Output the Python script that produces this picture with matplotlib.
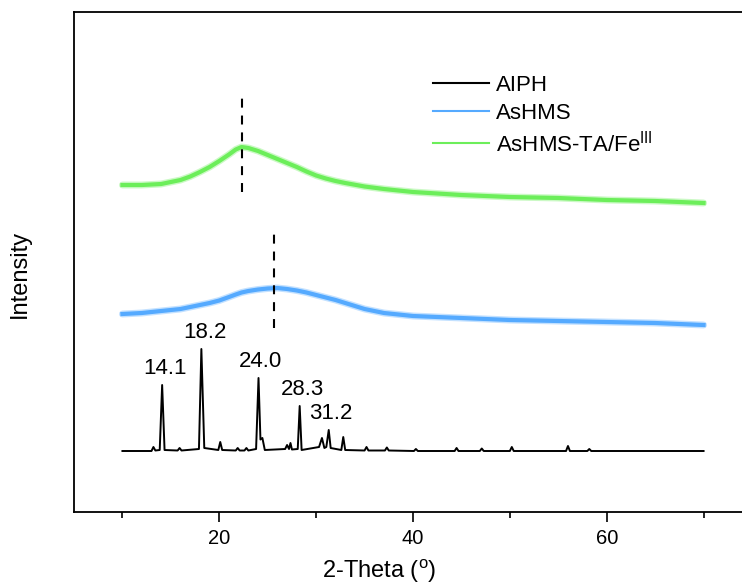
import numpy as np
import matplotlib.pyplot as plt
from matplotlib.ticker import MultipleLocator

plt.rcParams['font.family'] = ['Liberation Sans', 'DejaVu Sans']
plt.rcParams['mathtext.fontset'] = 'custom'
plt.rcParams['mathtext.rm'] = 'Liberation Sans'
plt.rcParams['mathtext.it'] = 'Liberation Sans:italic'

# AIPH: crystalline pattern, baseline + sharp reflections (2-theta in degrees)
aiph_two_theta = [10.0, 13.0, 13.2, 13.4, 13.85, 14.1, 14.35, 15.7, 15.9, 16.1,
                  17.9, 18.15, 18.45, 19.9, 20.1, 20.3, 21.7, 21.9, 22.1, 22.6,
                  22.8, 23.0, 23.8, 24.05, 24.25, 24.45, 24.7, 26.8, 27.0, 27.2,
                  27.35, 27.5, 28.1, 28.3, 28.5, 30.3, 30.6, 30.85, 31.05, 31.3,
                  31.5, 32.6, 32.8, 33.0, 35.0, 35.2, 35.4, 37.1, 37.3, 37.5,
                  40.1, 40.3, 40.5, 44.3, 44.5, 44.7, 46.9, 47.1, 47.3, 50.0,
                  50.2, 50.4, 55.8, 56.0, 56.2, 58.0, 58.2, 58.4, 70.0]
aiph_intensity = [12.2, 12.2, 13.0, 12.3, 12.4, 25.4, 12.4, 12.3, 12.8, 12.3,
                  12.6, 32.6, 12.8, 12.4, 14.0, 12.4, 12.3, 12.8, 12.3, 12.3,
                  12.8, 12.3, 12.6, 26.8, 14.5, 14.8, 12.4, 12.6, 13.4, 12.6,
                  13.8, 12.5, 12.6, 21.2, 12.4, 13.0, 14.8, 12.8, 13.0, 16.4,
                  12.8, 12.4, 15.0, 12.4, 12.3, 13.0, 12.3, 12.3, 12.9, 12.3,
                  12.2, 12.6, 12.2, 12.2, 12.8, 12.2, 12.2, 12.7, 12.2, 12.2,
                  13.0, 12.2, 12.2, 13.2, 12.2, 12.2, 12.6, 12.2, 12.2]

# amorphous humps of the two silica samples
hump_two_theta = [10, 12, 14, 16, 17, 18, 19, 20, 21, 21.7, 22.3, 23, 24, 25, 26,
                  27, 28, 29, 30, 31, 32, 33, 35, 37, 40, 45, 50, 55, 60, 65, 70]
ashms_intensity = [39.6, 39.8, 40.2, 40.6, 41.0, 41.4, 41.8, 42.3, 43.0, 43.5,
                   43.9, 44.2, 44.5, 44.7, 44.8, 44.6, 44.3, 43.9, 43.4, 42.9,
                   42.4, 41.8, 40.6, 39.8, 39.2, 38.8, 38.4, 38.2, 38.0, 37.8,
                   37.4]
ashms_ta_intensity = [65.4, 65.4, 65.6, 66.4, 67.1, 68.0, 69.0, 70.2, 71.5, 72.5,
                      73.0, 72.8, 72.2, 71.4, 70.6, 69.8, 69.0, 68.1, 67.3, 66.7,
                      66.2, 65.8, 65.1, 64.6, 64.0, 63.4, 63.0, 62.8, 62.4, 62.2,
                      61.8]

# labelled reflections of AIPH
peak_pos = [14.1, 18.2, 24.0, 28.3, 31.2]
peak_top = [25.4, 32.6, 26.8, 21.2, 16.4]
peak_text = ['14.1', '18.2', '24.0', '28.3', '31.2']

# hump maxima marked with dashed guides
guide_pos = [22.3, 25.6]
guide_lo = [64.0, 36.8]
guide_hi = [83.4, 56.0]

fig = plt.figure(figsize=(7.42, 5.87), dpi=100)
ax = fig.add_axes([74 / 742, 75 / 587, 678 / 742, 500 / 587])

ax.plot(aiph_two_theta, aiph_intensity, color='black', lw=1.4, label='AIPH')

# noisy humps: a soft halo under the main trace
for y, c, name in [(ashms_intensity, '#55AAFF', 'AsHMS'),
                   (ashms_ta_intensity, '#6CEE5A', 'AsHMS-TA/Fe$^{\\mathrm{III}}$')]:
    ax.plot(hump_two_theta, y, color=c, lw=5.0, alpha=0.35,
            solid_joinstyle='round', solid_capstyle='round')
    ax.plot(hump_two_theta, y, color=c, lw=3.0,
            solid_joinstyle='round', label=name)

for x, lo, hi in zip(guide_pos, guide_lo, guide_hi):
    ax.plot([x, x], [lo, hi], color='black', lw=1.5, ls=(0, (4.3, 3.8)))

for x, y, t in zip(peak_pos, peak_top, peak_text):
    ax.annotate(t, (x, y), xytext=(2, 4), textcoords='offset points',
                ha='center', va='bottom', fontsize=16)

ax.set_xlim(5, 75)
ax.set_ylim(0, 100)
ax.xaxis.set_major_locator(MultipleLocator(20))
ax.xaxis.set_minor_locator(MultipleLocator(10))
ax.tick_params(axis='x', which='major', length=7.2, width=1.2, labelsize=14.5, pad=5)
ax.tick_params(axis='x', which='minor', length=4.3, width=1.2)
ax.set_yticks([])
for s in ax.spines.values():
    s.set_linewidth(1.3)

ax.set_xlabel('2-Theta ($^{\\mathrm{o}}$)', fontsize=17)
ax.xaxis.set_label_coords(0.45, -0.118)
ax.xaxis.label.set_va('center')
ax.set_ylabel('Intensity', fontsize=17)
ax.yaxis.set_label_coords(-54 / 678, 0.476)
ax.yaxis.label.set_va('center')

leg = ax.legend(loc='upper left', bbox_to_anchor=(0.5, 0.914), frameon=False,
                fontsize=16, handlelength=2.5, handletextpad=0.35, labelspacing=0.3)
for line in leg.get_lines():
    line.set_linewidth(1.5)

fig.savefig('out.png', dpi=100)
